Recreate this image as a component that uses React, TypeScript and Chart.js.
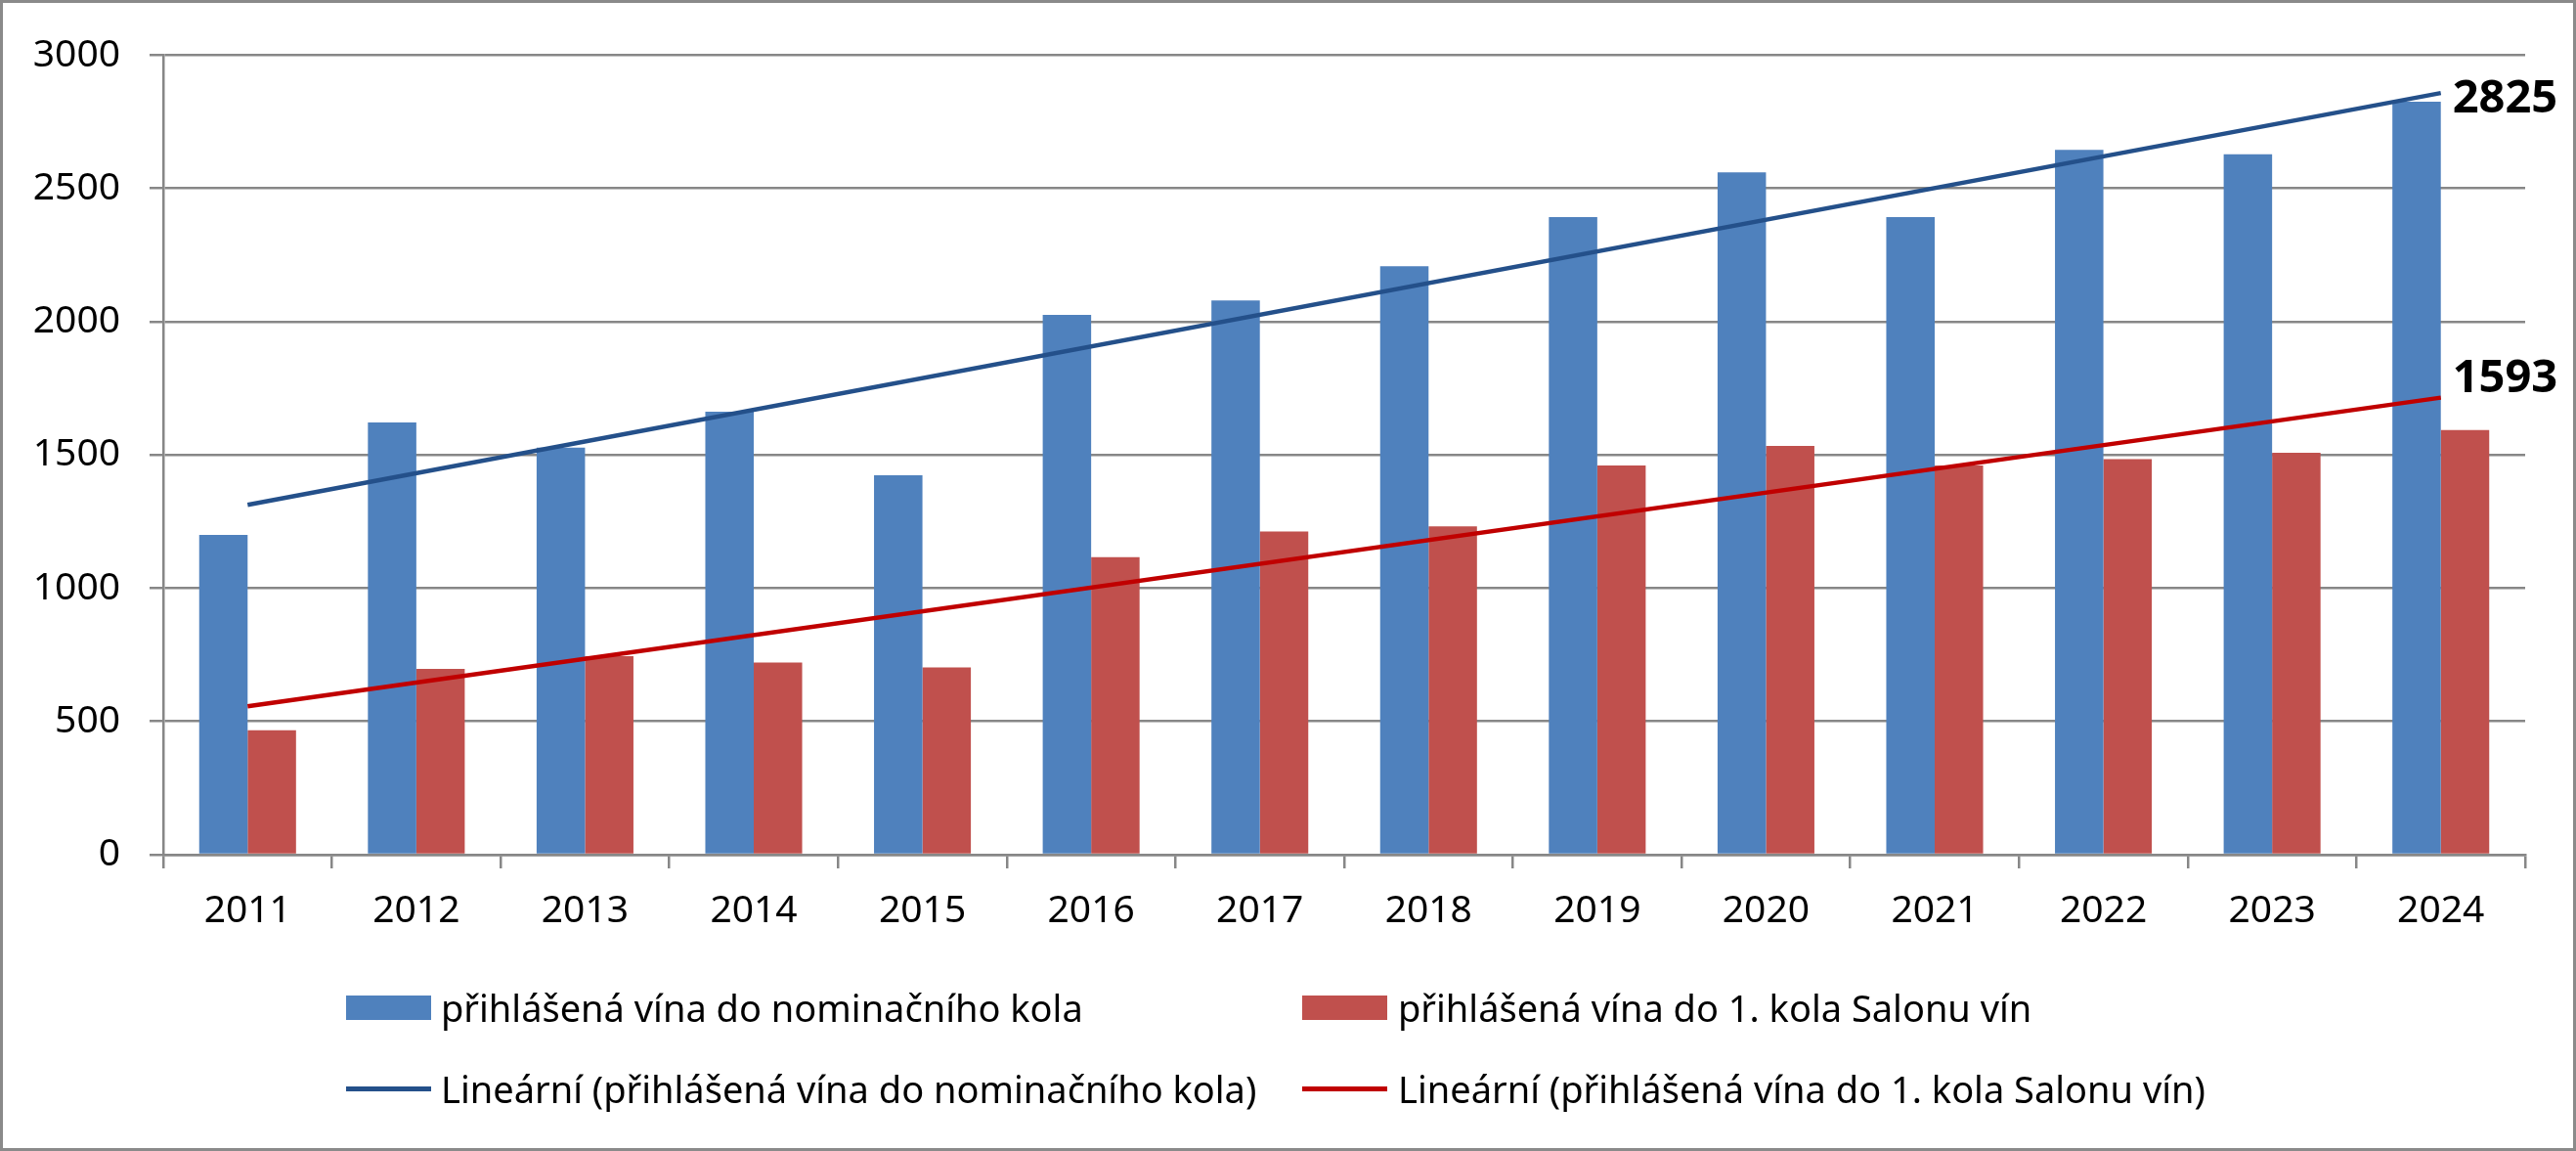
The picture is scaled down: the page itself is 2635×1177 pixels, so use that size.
import React, { useEffect, useRef } from "react";
import { Chart, registerables } from "chart.js";

Chart.register(...registerables);

const years = ["2011", "2012", "2013", "2014", "2015", "2016", "2017", "2018", "2019", "2020", "2021", "2022", "2023", "2024"];
const nominationWines = [1200, 1622, 1527, 1662, 1424, 2025, 2080, 2208, 2392, 2560, 2392, 2645, 2628, 2825];
const salonWines = [467, 697, 745, 721, 703, 1116, 1213, 1232, 1460, 1534, 1460, 1484, 1508, 1593];
const nominationTrend = [1313, null, null, null, null, null, null, null, null, null, null, null, null, 2858];
const salonTrend = [557, null, null, null, null, null, null, null, null, null, null, null, null, 1715];
const endLabels = ["2825", "1593"];
const seriesNames = [
  "přihlášená vína do nominačního kola",
  "přihlášená vína do 1. kola Salonu vín",
  "Lineární (přihlášená vína do nominačního kola)",
  "Lineární (přihlášená vína do 1. kola Salonu vín)",
];
const yMin = 0;
const yMax = 3000;
const yStep = 500;

const FONT = '"Noto Sans", "DejaVu Sans", sans-serif';
const BLUE = "#4F81BD";
const RED = "#C0504D";
const BLUE_TREND = "#24508A";
const RED_TREND = "#C00000";
const GRID = "#878787";

const endLabelPlugin = {
  id: "endLabels",
  afterDatasetsDraw(chart: any) {
    const ctx = chart.ctx;
    const offsets = [7, -19];
    [2, 3].forEach((di, i) => {
      const meta = chart.getDatasetMeta(di);
      const pt = meta.data[meta.data.length - 1];
      if (!pt) return;
      ctx.save();
      ctx.font = `bold 47px ${FONT}`;
      ctx.fillStyle = "#000";
      ctx.textAlign = "left";
      ctx.textBaseline = "middle";
      ctx.fillText(endLabels[i], pt.x + 12, pt.y + offsets[i]);
      ctx.restore();
    });
  },
};

export default function App() {
  const ref = useRef<HTMLCanvasElement | null>(null);

  useEffect(() => {
    document.body.style.margin = "0";
    const canvas = ref.current;
    if (!canvas) return;
    const chart = new Chart(canvas, {
      type: "bar",
      data: {
        labels: years,
        datasets: [
          { type: "bar", label: seriesNames[0], data: nominationWines, backgroundColor: BLUE, borderWidth: 0, order: 2 },
          { type: "bar", label: seriesNames[1], data: salonWines, backgroundColor: RED, borderWidth: 0, order: 2 },
          {
            type: "line", label: seriesNames[2], data: nominationTrend as any, borderColor: BLUE_TREND,
            borderWidth: 4.5, pointRadius: 0, spanGaps: true, fill: false, order: 0,
          },
          {
            type: "line", label: seriesNames[3], data: salonTrend as any, borderColor: RED_TREND,
            borderWidth: 4.5, pointRadius: 0, spanGaps: true, fill: false, order: 0,
          },
        ],
      } as any,
      options: {
        animation: false,
        responsive: false,
        maintainAspectRatio: false,
        devicePixelRatio: 1,
        layout: { padding: { top: 49, right: 49, bottom: 0, left: 0 } },
        datasets: { bar: { categoryPercentage: 0.574, barPercentage: 1 } },
        plugins: { legend: { display: false }, tooltip: { enabled: false } },
        scales: {
          x: {
            grid: {
              offset: true, drawOnChartArea: false, drawTicks: true, tickLength: 14,
              color: GRID, lineWidth: 2.5,
            },
            border: { display: true, color: GRID, width: 2.5 },
            ticks: { color: "#000", font: { family: FONT, size: 39 }, padding: 20, maxRotation: 0 },
            afterFit: (s: any) => { s.height = 300; },
          },
          y: {
            min: yMin, max: yMax,
            grid: { color: GRID, lineWidth: 2.5, drawTicks: true, tickLength: 14 },
            border: { display: true, color: GRID, width: 2.5 },
            ticks: {
              stepSize: yStep, color: "#000", font: { family: FONT, size: 39 }, padding: 30,
              callback: (v: any) => String(v),
            },
            afterFit: (s: any) => { s.width = 164; },
          },
        },
      } as any,
      plugins: [endLabelPlugin],
    });
    return () => chart.destroy();
  }, []);

  const legendText: React.CSSProperties = {
    position: "absolute", fontFamily: FONT, fontSize: 38, color: "#000",
    lineHeight: "50px", height: 50, whiteSpace: "nowrap",
  };

  return (
    <div style={{ position: "absolute", left: 0, top: 0, width: 2635, height: 1177, boxSizing: "border-box", border: "3px solid #8A8A8A", background: "#fff" }}>
      <canvas ref={ref} width={2629} height={1171} style={{ display: "block", width: 2629, height: 1171 }} />
      <div style={{ position: "absolute", left: 351, top: 1015, width: 87, height: 25, background: BLUE }} />
      <div style={{ ...legendText, left: 448, top: 1002 }}>{seriesNames[0]}</div>
      <div style={{ position: "absolute", left: 1329, top: 1015, width: 87, height: 25, background: RED }} />
      <div style={{ ...legendText, left: 1427, top: 1002 }}>{seriesNames[1]}</div>
      <div style={{ position: "absolute", left: 351, top: 1108, width: 87, height: 5, background: BLUE_TREND }} />
      <div style={{ ...legendText, left: 448, top: 1085 }}>{seriesNames[2]}</div>
      <div style={{ position: "absolute", left: 1329, top: 1108, width: 87, height: 5, background: RED_TREND }} />
      <div style={{ ...legendText, left: 1427, top: 1085 }}>{seriesNames[3]}</div>
    </div>
  );
}
